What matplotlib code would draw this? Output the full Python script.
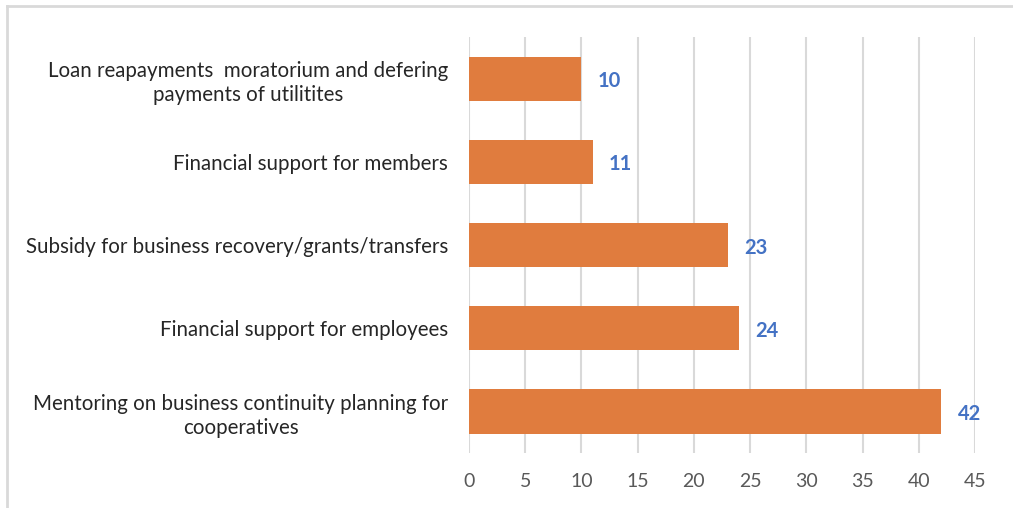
import matplotlib
matplotlib.use("Agg")
import matplotlib.pyplot as plt
from matplotlib.lines import Line2D

# Support measures, top to bottom
categories = [
    "Loan reapayments  moratorium and defering\npayments of utilitites",
    "Financial support for members",
    "Subsidy for business recovery/grants/transfers",
    "Financial support for employees",
    "Mentoring on business continuity planning for\ncooperatives",
]
values = [10, 11, 23, 24, 42]
xticks = [0, 5, 10, 15, 20, 25, 30, 35, 40, 45]

plt.rcParams["font.family"] = ["Lato", "DejaVu Sans"]

fig = plt.figure(figsize=(10.13, 5.08), dpi=100)
ax = fig.add_axes([0.463, 0.108, 0.4995, 0.819])

ypos = list(range(len(categories)))
ax.barh(ypos, values, height=0.53, color="#E07C3E", zorder=3)
ax.set_ylim(len(categories) - 0.5, -0.5)
ax.set_xlim(0, 45)

for y, v in zip(ypos, values):
    ax.text(v + 1.45, y + 0.03, str(v), va="center", ha="left",
            color="#4472C4", fontsize=14.5, fontweight="bold")

ax.set_yticks(ypos)
ax.set_yticklabels(categories, fontsize=14.8, color="#262626",
                   ha="right", multialignment="center", linespacing=1.3)
ax.tick_params(axis="y", length=0, pad=15)
ax.set_xticks(xticks)
ax.set_xticklabels([str(t) for t in xticks], fontsize=14, color="#595959")
ax.tick_params(axis="x", length=0, pad=14)

ax.grid(axis="x", color="#D9D9D9", linewidth=1.5, zorder=0)
for s in ax.spines.values():
    s.set_visible(False)

# light frame along the top and left edges
fig.add_artist(Line2D([7 / 1013, 7 / 1013], [0, 1 - 6 / 508],
                      transform=fig.transFigure, color="#D9D9D9", lw=2))
fig.add_artist(Line2D([7 / 1013, 1], [1 - 6 / 508, 1 - 6 / 508],
                      transform=fig.transFigure, color="#D9D9D9", lw=2))

fig.savefig("out.png", dpi=100)
